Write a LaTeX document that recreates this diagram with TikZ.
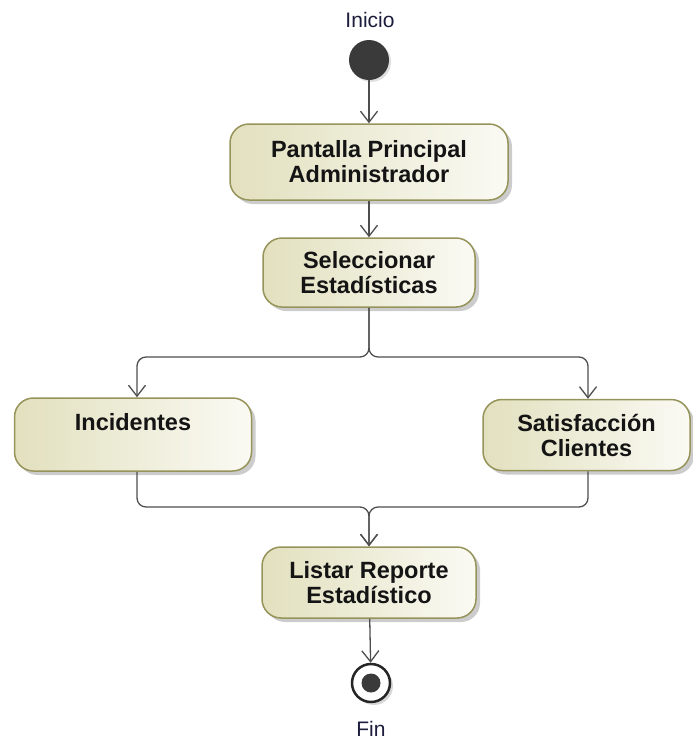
\documentclass[tikz,border=0pt]{standalone}
\usepackage{fontspec}
\setmainfont{Liberation Sans}
\usetikzlibrary{arrows.meta,shadows,positioning}
\definecolor{boxborder}{RGB}{150,148,90}
\definecolor{boxleft}{RGB}{226,224,190}
\definecolor{boxright}{RGB}{250,250,244}
\definecolor{linegray}{RGB}{78,78,78}
\definecolor{lbl}{RGB}{28,28,60}
\definecolor{dot}{RGB}{58,58,58}
\tikzset{
  act/.style={draw=boxborder, line width=1.5pt, rounded corners=19pt,
    left color=boxleft, right color=boxright,
    drop shadow={shadow xshift=4pt,shadow yshift=-4pt,fill=black!40},
    font=\bfseries\fontsize{23.5}{25}\selectfont, text=black!92, align=center,
    inner sep=0pt},
  flow/.style={draw=linegray, line width=1.3pt,
    -{Straight Barb[length=11pt,width=17pt,line width=1.3pt]}},
  lab/.style={font=\fontsize{21}{23}\selectfont, text=lbl, inner sep=0pt}
}
\begin{document}
\begin{tikzpicture}[x=1pt,y=-1pt]
\useasboundingbox (0,0) rectangle (693,740);
% start / end
\node[lab] (inicio) at (370,20) {Inicio};
\node[circle, fill=dot, minimum size=40pt, inner sep=0pt,
  drop shadow={shadow xshift=2pt,shadow yshift=-2pt,fill=black!25}] (start) at (369,60) {};
\node[circle, draw=black!85, line width=2.5pt, fill=white, minimum size=38pt, inner sep=0pt,
  drop shadow={shadow xshift=3pt,shadow yshift=-3pt,fill=black!30}] (fin) at (371,683) {};
\node[circle, fill=dot, minimum size=19pt, inner sep=0pt] (findot) at (fin) {};
\node[lab] (finlab) at (371,729) {Fin};
% activities
\node[act, minimum width=278pt, minimum height=76pt] (pant) at (369,162) {Pantalla Principal\\Administrador};
\node[act, minimum width=212pt, minimum height=69pt] (sel) at (369,272.5) {Seleccionar\\Estadísticas};
\node[act, minimum width=237pt, minimum height=73pt] (inc) at (133,434.5) {Incidentes\\\phantom{I}};
\node[act, minimum width=207pt, minimum height=71pt] (sat) at (586.5,435) {Satisfacción\\Clientes};
\node[act, minimum width=214pt, minimum height=71pt] (lis) at (369,582.5) {Listar Reporte\\Estadístico};
% junction points
\coordinate (fork) at (369,357);
\coordinate (join) at (369,507);
% connectors
\draw[flow] (start) -- (pant);
\draw[flow] (pant) -- (sel);
\draw[flow, rounded corners=9pt] (sel.south) -- (fork) -| ([xshift=4pt]inc.north);
\draw[flow, rounded corners=9pt] (sel.south) -- (fork) -| ([xshift=1.5pt]sat.north);
\draw[flow, rounded corners=9pt] ([xshift=4pt]inc.south) |- (join) -- (lis.north);
\draw[flow, rounded corners=9pt] ([xshift=1.5pt]sat.south) |- (join) -- (lis.north);
\draw[flow] (lis) -- (fin);
\end{tikzpicture}
\end{document}
